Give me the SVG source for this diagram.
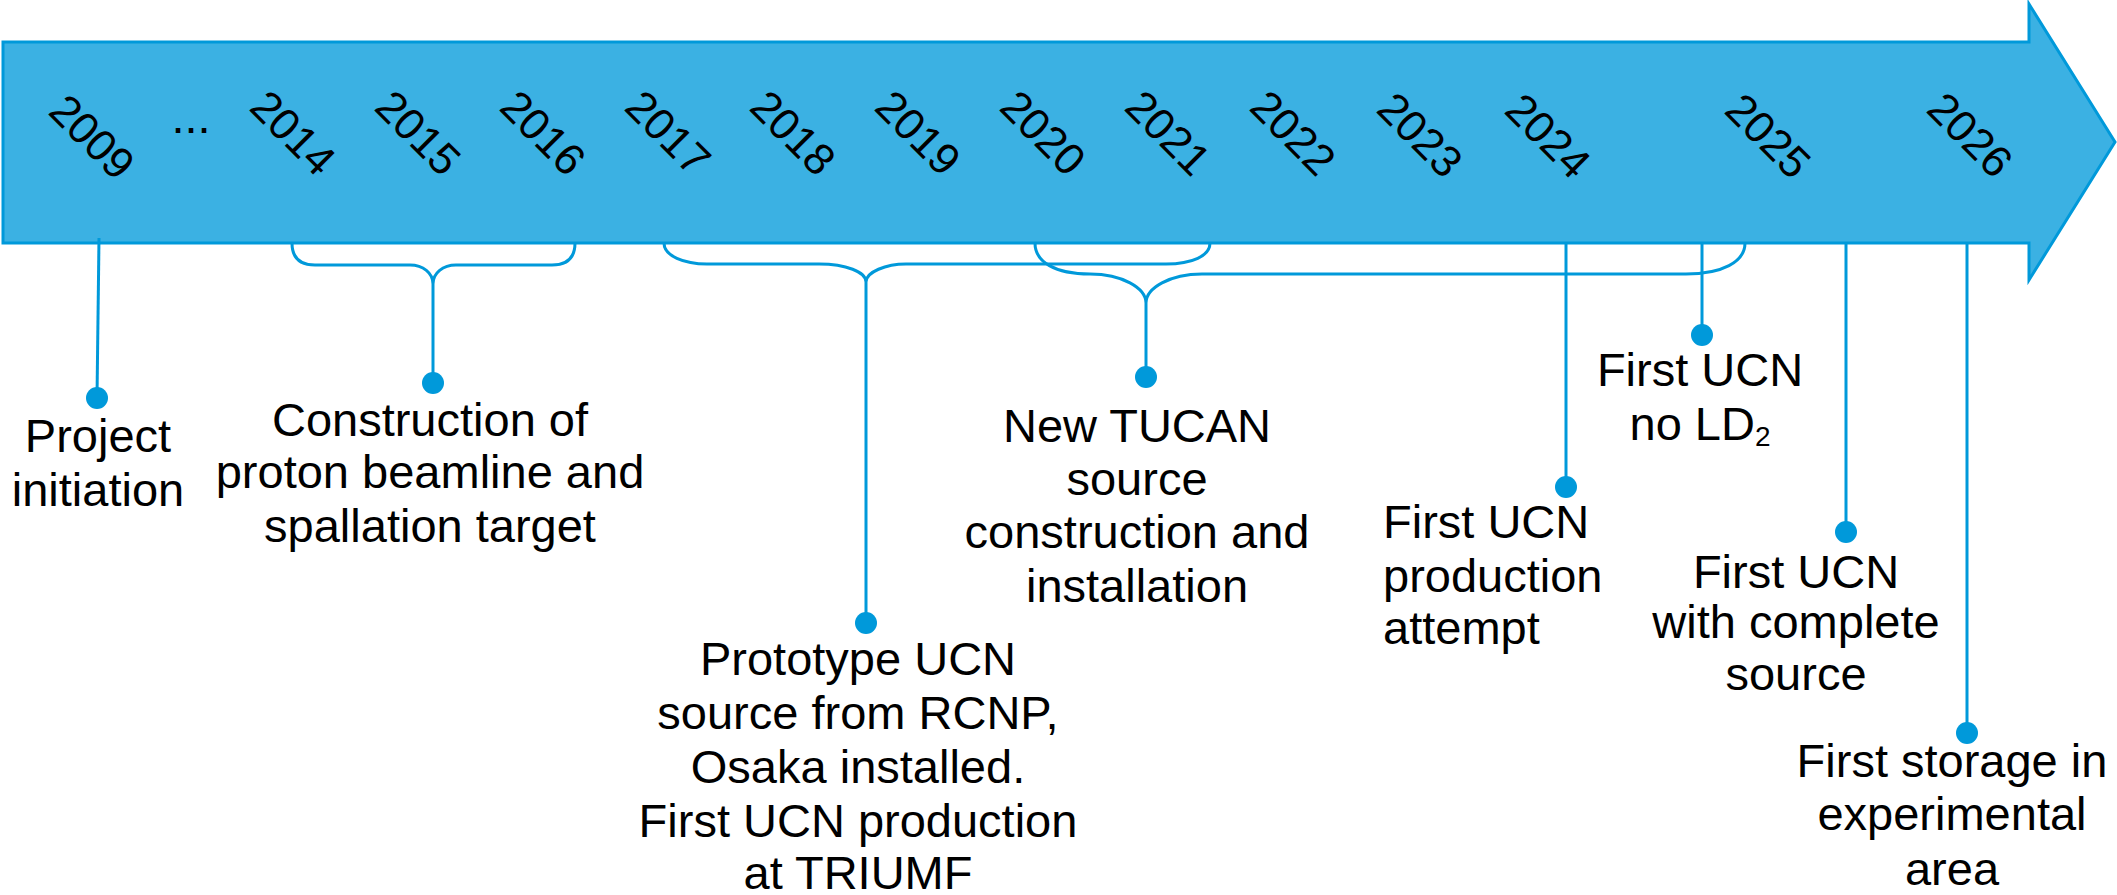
<svg xmlns="http://www.w3.org/2000/svg" width="2117" height="895" viewBox="0 0 2117 895">
  <style>
    .lbl { font-family: "Liberation Sans", Arial, sans-serif; font-size: 47px; fill: #000; }
    .yr { font-family: "Liberation Sans", Arial, sans-serif; font-size: 44px; fill: #000; text-anchor: middle; }
    .mid { text-anchor: middle; }
    .conn { fill: none; stroke: #0099DA; stroke-width: 3; }
    .dot { fill: #0099DA; }
  </style>
  <rect width="2117" height="895" fill="#ffffff"/>

  <g id="timeline-arrow">
    <path d="M3,42 L2029,42 L2029,4 L2115,142 L2029,280 L2029,243 L3,243 Z" fill="#3BB1E3" stroke="#0099DA" stroke-width="3" stroke-linejoin="miter"/>
    <text class="yr" transform="translate(92,137) rotate(45)" y="15">2009</text>
    <text class="lbl mid" x="191" y="133" font-size="44">...</text>
    <text class="yr" transform="translate(293,133) rotate(45)" y="15">2014</text>
    <text class="yr" transform="translate(418,133) rotate(45)" y="15">2015</text>
    <text class="yr" transform="translate(543,133) rotate(45)" y="15">2016</text>
    <text class="yr" transform="translate(668,133) rotate(45)" y="15">2017</text>
    <text class="yr" transform="translate(793,133) rotate(45)" y="15">2018</text>
    <text class="yr" transform="translate(918,133) rotate(45)" y="15">2019</text>
    <text class="yr" transform="translate(1043,133) rotate(45)" y="15">2020</text>
    <text class="yr" transform="translate(1168,133) rotate(45)" y="15">2021</text>
    <text class="yr" transform="translate(1293,133) rotate(45)" y="15">2022</text>
    <text class="yr" transform="translate(1420,135) rotate(45)" y="15">2023</text>
    <text class="yr" transform="translate(1548,136) rotate(45)" y="15">2024</text>
    <text class="yr" transform="translate(1768,136) rotate(45)" y="15">2025</text>
    <text class="yr" transform="translate(1970,135) rotate(45)" y="15">2026</text>
  </g>

  <g id="connectors">
    <path class="conn" d="M99,238 L97,398"/>
    <path class="conn" d="M292,243 C292,258 300,265 315,265 L410,265 C423,265 433,273 433,284 C433,273 443,265 456,265 L552,265 C567,265 575,258 575,243"/>
    <path class="conn" d="M433,284 L433,383"/>
    <path class="conn" d="M664,243 C664,256 684,264 707,264 L819,264 C846,264 866,272 866,282 C866,272 886,264 906,264 L1166,264 C1192,264 1210,256 1210,243"/>
    <path class="conn" d="M866,282 L866,623"/>
    <path class="conn" d="M1035,243 C1035,262 1055,274 1090,274 C1122,274 1146,288 1146,303 C1146,288 1170,274 1202,274 L1686,274 C1722,274 1745,262 1745,243"/>
    <path class="conn" d="M1146,303 L1146,377"/>
    <path class="conn" d="M1566,243 L1566,487"/>
    <path class="conn" d="M1702,243 L1702,335"/>
    <path class="conn" d="M1846,243 L1846,532"/>
    <path class="conn" d="M1967,243 L1967,733"/>
  </g>

  <g id="project-initiation">
    <circle class="dot" cx="97" cy="398" r="11"/>
    <text class="lbl mid" x="98" y="452">Project</text>
    <text class="lbl mid" x="98" y="506">initiation</text>
  </g>

  <g id="construction-beamline">
    <circle class="dot" cx="433" cy="383" r="11"/>
    <text class="lbl mid" x="430" y="436">Construction of</text>
    <text class="lbl mid" x="430" y="488">proton beamline and</text>
    <text class="lbl mid" x="430" y="542">spallation target</text>
  </g>

  <g id="prototype-ucn">
    <circle class="dot" cx="866" cy="623" r="11"/>
    <text class="lbl mid" x="858" y="675">Prototype UCN</text>
    <text class="lbl mid" x="858" y="729">source from RCNP,</text>
    <text class="lbl mid" x="858" y="783">Osaka installed.</text>
    <text class="lbl mid" x="858" y="837">First UCN production</text>
    <text class="lbl mid" x="858" y="889">at TRIUMF</text>
  </g>

  <g id="new-tucan">
    <circle class="dot" cx="1146" cy="377" r="11"/>
    <text class="lbl mid" x="1137" y="442">New TUCAN</text>
    <text class="lbl mid" x="1137" y="495">source</text>
    <text class="lbl mid" x="1137" y="548">construction and</text>
    <text class="lbl mid" x="1137" y="602">installation</text>
  </g>

  <g id="first-ucn-attempt">
    <circle class="dot" cx="1566" cy="487" r="11"/>
    <text class="lbl" x="1383" y="538">First UCN</text>
    <text class="lbl" x="1383" y="592">production</text>
    <text class="lbl" x="1383" y="644">attempt</text>
  </g>

  <g id="first-ucn-no-ld2">
    <circle class="dot" cx="1702" cy="335" r="11"/>
    <text class="lbl mid" x="1700" y="386">First UCN</text>
    <text class="lbl mid" x="1700" y="440">no LD<tspan font-size="28" dy="6">2</tspan></text>
  </g>

  <g id="first-ucn-complete">
    <circle class="dot" cx="1846" cy="532" r="11"/>
    <text class="lbl mid" x="1796" y="588">First UCN</text>
    <text class="lbl mid" x="1796" y="638">with complete</text>
    <text class="lbl mid" x="1796" y="690">source</text>
  </g>

  <g id="first-storage">
    <circle class="dot" cx="1967" cy="733" r="11"/>
    <text class="lbl mid" x="1952" y="777">First storage in</text>
    <text class="lbl mid" x="1952" y="830">experimental</text>
    <text class="lbl mid" x="1952" y="885">area</text>
  </g>
</svg>
